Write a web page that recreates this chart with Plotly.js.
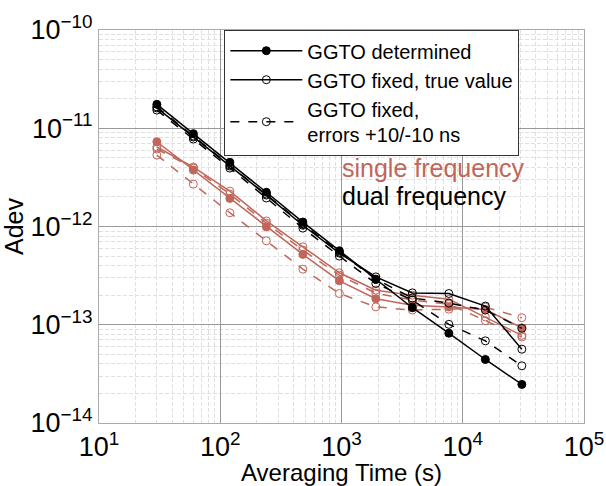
<!DOCTYPE html>
<html>
<head>
<meta charset="utf-8">
<script src="https://cdn.plot.ly/plotly-3.0.1.min.js"></script>
<style>html,body{margin:0;padding:0;background:#fff;}#chart{width:606px;height:486px;}</style>
</head>
<body>
<div id="chart"></div>
<script>
// Averaging times (s)
const tau = [30, 60, 120, 240, 480, 960, 1920, 3840, 7680, 15360, 30720];

// Dual frequency (black)
const dualDetermined = [1.75e-11, 8.8e-12, 4.5e-12, 2.23e-12, 1.11e-12, 5.66e-13, 2.89e-13, 1.49e-13, 8.2e-14, 4.43e-14, 2.47e-14];
const dualFixedTrue  = [1.61e-11, 8.14e-12, 4.12e-12, 2.09e-12, 1.03e-12, 5.36e-13, 3.07e-13, 2.11e-13, 2.08e-13, 1.55e-13, 5.64e-14];
const dualErrMinus   = [1.53e-11, 7.76e-12, 3.93e-12, 1.95e-12, 9.63e-13, 5.0e-13, 2.63e-13, 1.78e-13, 1.01e-13, 6.86e-14, 3.82e-14];
const dualErrPlus    = [1.65e-11, 8.33e-12, 4.22e-12, 2.14e-12, 1.06e-12, 5.49e-13, 2.91e-13, 1.87e-13, 1.66e-13, 1.41e-13, 9.2e-14];

// Single frequency (red)
const singleDetermined = [7.29e-12, 3.75e-12, 1.93e-12, 9.9e-13, 5.2e-13, 2.8e-13, 1.84e-13, 1.58e-13, 1.52e-13, 1.43e-13, 9.3e-14];
const singleFixedTrue  = [6.44e-12, 4.03e-12, 2.29e-12, 1.14e-12, 6.21e-13, 3.38e-13, 2.25e-13, 2.0e-13, 1.82e-13, 1.2e-13, 7.8e-14];
const singleErrMinus   = [5.33e-12, 2.7e-12, 1.38e-12, 7.15e-13, 3.68e-13, 2.08e-13, 1.52e-13, 1.41e-13, 1.44e-13, 1.51e-13, 1.18e-13];
const singleErrPlus    = [6.14e-12, 3.93e-12, 2.14e-12, 1.08e-12, 5.75e-13, 3.2e-13, 2.1e-13, 1.78e-13, 1.62e-13, 1.1e-13, 7.5e-14];

// Tick labels
const xTickVals = [1e1, 1e2, 1e3, 1e4, 1e5];
const xTickText = ["10<sup>1</sup>", "10<sup>2</sup>", "10<sup>3</sup>", "10<sup>4</sup>", "10<sup>5</sup>"];
const yTickVals = [1e-14, 1e-13, 1e-12, 1e-11, 1e-10];
const yTickText = ["10<sup>\u221214</sup>", "10<sup>\u221213</sup>", "10<sup>\u221212</sup>", "10<sup>\u221211</sup>", "10<sup>\u221210</sup>"];

const legendNames = ["GGTO determined", "GGTO fixed, true value", "GGTO fixed,<br>errors +10/-10 ns"];
const noteSingle = "single frequency";
const noteDual = "dual frequency";

const BLACK = "#000000";
const RED = "#c0665a";

function tr(y, color, kind, name, show) {
  const dash = kind === "dash" ? "dash" : "solid";
  const sym = kind === "filled" ? "circle" : "circle-open";
  return {
    x: tau, y: y, type: "scatter", mode: "lines+markers",
    name: name || "", showlegend: !!show,
    line: {color: color, width: 1.5, dash: dash},
    marker: {symbol: sym, size: 8, color: color, line: {color: color, width: 1}}
  };
}

const data = [
  tr(singleErrMinus, RED, "dash"),
  tr(singleErrPlus, RED, "dash"),
  tr(singleFixedTrue, RED, "open"),
  tr(singleDetermined, RED, "filled"),
  tr(dualErrPlus, BLACK, "dash"),
  tr(dualFixedTrue, BLACK, "open", legendNames[1], true),
  tr(dualDetermined, BLACK, "filled", legendNames[0], true),
  tr(dualErrMinus, BLACK, "dash", legendNames[2], true)
];
data[6].legendrank = 1; data[5].legendrank = 2; data[7].legendrank = 3;

const font = "Liberation Sans, Arial, sans-serif";
const axisCommon = {
  type: "log",
  showline: true, mirror: true, linecolor: "#aaaaaa", linewidth: 1,
  showgrid: true, gridcolor: "#999999", gridwidth: 1,
  ticks: "", zeroline: false,
  tickmode: "array",
  tickfont: {family: font, size: 27, color: "#000"},
  minor: {showgrid: true, gridcolor: "#e0e0e0", griddash: "4px,2px", gridwidth: 1, dtick: "D1"}
};

const layout = {
  width: 606, height: 486,
  margin: {l: 99, r: 22, t: 30, b: 63},
  paper_bgcolor: "#fff", plot_bgcolor: "#fff",
  font: {family: font, color: "#000"},
  showlegend: true,
  legend: {
    x: 0.258, y: 1.0, xanchor: "left", yanchor: "top",
    bgcolor: "#fff", bordercolor: "#333", borderwidth: 1.2,
    font: {family: font, size: 20, color: "#000"},
    tracegroupgap: 0, itemwidth: 72, entrywidth: 262
  },
  xaxis: Object.assign({}, axisCommon, {
    range: [1, 5], tickvals: xTickVals, ticktext: xTickText,
    title: {text: "Averaging Time (s)", font: {family: font, size: 24, color: "#000"}, standoff: 0}
  }),
  yaxis: Object.assign({}, axisCommon, {
    range: [-14, -10], tickvals: yTickVals, ticktext: yTickText,
    title: {text: "Adev", font: {family: font, size: 25, color: "#000"}, standoff: 0}
  }),
  annotations: [
    {xref: "x", yref: "y", x: 2.99, y: -11.4, xanchor: "left", yanchor: "middle",
     text: noteSingle, showarrow: false, font: {family: font, size: 25, color: RED}},
    {xref: "x", yref: "y", x: 2.99, y: -11.69, xanchor: "left", yanchor: "middle",
     text: noteDual, showarrow: false, font: {family: font, size: 25, color: BLACK}}
  ]
};

Plotly.newPlot("chart", data, layout, {displayModeBar: false, staticPlot: true});
</script>
</body>
</html>
